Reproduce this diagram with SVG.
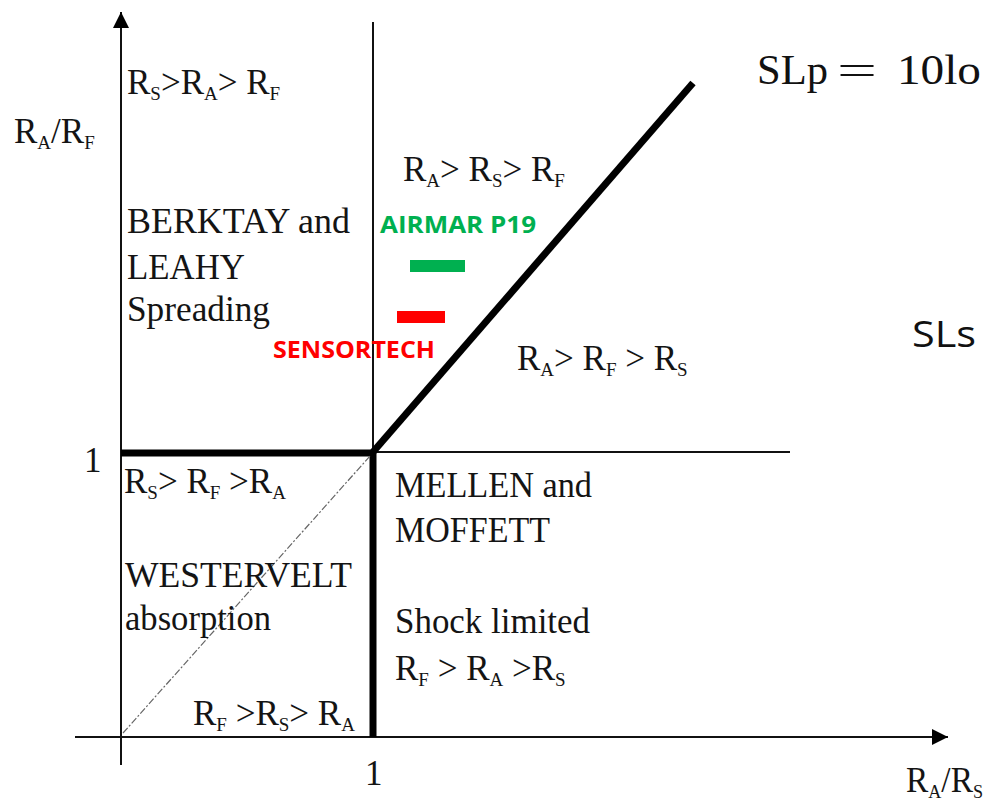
<svg xmlns="http://www.w3.org/2000/svg" width="985" height="801" viewBox="0 0 985 801">
<style>
.t{font-family:"Liberation Serif","Times New Roman",serif;font-size:35px;fill:#141414}
.s{font-size:19px}
.thin{stroke:#111;stroke-width:2;fill:none}
.thick{stroke:#000;stroke-width:7;fill:none}
.g{font-family:"Open Sans","Liberation Sans",sans-serif;font-weight:bold;font-size:24px}
.f{font-family:"Liberation Serif",serif;font-size:42px;fill:#111}
</style>
<defs>
<marker id="ah" viewBox="0 0 10 10" refX="10" refY="5" markerWidth="16" markerHeight="16" markerUnits="userSpaceOnUse" orient="auto">
<path d="M0,0 L10,5 L0,10 z" fill="#000"/>
</marker>
</defs>
<rect width="985" height="801" fill="#fff"/>
<g id="connectors">
<line class="thin" x1="121" y1="765" x2="121" y2="12" marker-end="url(#ah)"/>
<line class="thin" x1="75" y1="737" x2="948" y2="737" marker-end="url(#ah)"/>
<line class="thin" x1="373" y1="22" x2="373" y2="452"/>
<line class="thin" x1="373" y1="452" x2="790" y2="452"/>
<line class="thick" x1="121" y1="453" x2="376" y2="453"/>
<line class="thick" x1="373" y1="450" x2="373" y2="737"/>
<line class="thick" x1="373" y1="452" x2="693" y2="83"/>
<line x1="123" y1="733" x2="370" y2="456" stroke="#666" stroke-width="1.2" stroke-dasharray="7 2 2 2"/>
</g>
<g id="axis-labels">
<text class="t" x="14" y="143">R<tspan class="s" dy="6">A</tspan><tspan dy="-6">/R</tspan><tspan class="s" dy="6">F</tspan></text>
<text class="t" x="84" y="472">1</text>
<text class="t" x="365" y="785">1</text>
<text class="t" x="906" y="792" textLength="77" lengthAdjust="spacingAndGlyphs">R<tspan class="s" dy="6">A</tspan><tspan dy="-6">/R</tspan><tspan class="s" dy="6">S</tspan></text>
</g>
<g id="region-top-left">
<text class="t" x="127" y="94">R<tspan class="s" dy="6">S</tspan><tspan dy="-6">&gt;R</tspan><tspan class="s" dy="6">A</tspan><tspan dy="-6">&gt; R</tspan><tspan class="s" dy="6">F</tspan></text>
<text class="t" x="127" y="233" textLength="223" lengthAdjust="spacingAndGlyphs">BERKTAY and</text>
<text class="t" x="127" y="279" textLength="118" lengthAdjust="spacingAndGlyphs">LEAHY</text>
<text class="t" x="127" y="321" textLength="143" lengthAdjust="spacingAndGlyphs">Spreading</text>
</g>
<g id="region-top-middle">
<text class="t" x="403" y="181">R<tspan class="s" dy="6">A</tspan><tspan dy="-6">&gt; R</tspan><tspan class="s" dy="6">S</tspan><tspan dy="-6">&gt; R</tspan><tspan class="s" dy="6">F</tspan></text>
</g>
<g id="region-right">
<text class="t" x="517" y="370">R<tspan class="s" dy="6">A</tspan><tspan dy="-6">&gt; R</tspan><tspan class="s" dy="6">F</tspan><tspan dy="-6"> &gt; R</tspan><tspan class="s" dy="6">S</tspan></text>
</g>
<g id="airmar">
<text class="g" x="380" y="233" fill="#00b050" textLength="156" lengthAdjust="spacingAndGlyphs">AIRMAR P19</text>
<rect x="410" y="260" width="55" height="12" fill="#00b050"/>
</g>
<g id="sensortech">
<rect x="397" y="311" width="48" height="12" fill="#ff0000"/>
<text class="g" x="273" y="358" fill="#ff0000" textLength="162" lengthAdjust="spacingAndGlyphs">SENSORTECH</text>
</g>
<g id="region-bottom-left">
<text class="t" x="124" y="493">R<tspan class="s" dy="6">S</tspan><tspan dy="-6">&gt; R</tspan><tspan class="s" dy="6">F</tspan><tspan dy="-6"> &gt;R</tspan><tspan class="s" dy="6">A</tspan></text>
<text class="t" x="125" y="587" textLength="227" lengthAdjust="spacingAndGlyphs">WESTERVELT</text>
<text class="t" x="125" y="630" textLength="146" lengthAdjust="spacingAndGlyphs">absorption</text>
<text class="t" x="193" y="725">R<tspan class="s" dy="6">F</tspan><tspan dy="-6"> &gt;R</tspan><tspan class="s" dy="6">S</tspan><tspan dy="-6">&gt; R</tspan><tspan class="s" dy="6">A</tspan></text>
</g>
<g id="region-bottom-right">
<text class="t" x="395" y="497" textLength="197" lengthAdjust="spacingAndGlyphs">MELLEN and</text>
<text class="t" x="395" y="542" textLength="155" lengthAdjust="spacingAndGlyphs">MOFFETT</text>
<text class="t" x="395" y="633" textLength="195" lengthAdjust="spacingAndGlyphs">Shock limited</text>
<text class="t" x="395" y="680">R<tspan class="s" dy="6">F</tspan><tspan dy="-6"> &gt; R</tspan><tspan class="s" dy="6">A</tspan><tspan dy="-6"> &gt;R</tspan><tspan class="s" dy="6">S</tspan></text>
</g>
<g id="formula">
<text class="f" x="757" y="84" textLength="71" lengthAdjust="spacingAndGlyphs">SLp</text>
<text class="f" x="837" y="84" textLength="40" lengthAdjust="spacingAndGlyphs">=</text>
<text class="f" x="897" y="84" textLength="84" lengthAdjust="spacingAndGlyphs">10lo</text>
<text x="912" y="347" font-family="'Open Sans','Liberation Sans',sans-serif" font-size="36" fill="#111" textLength="64" lengthAdjust="spacingAndGlyphs">SLs</text>
</g>
</svg>
